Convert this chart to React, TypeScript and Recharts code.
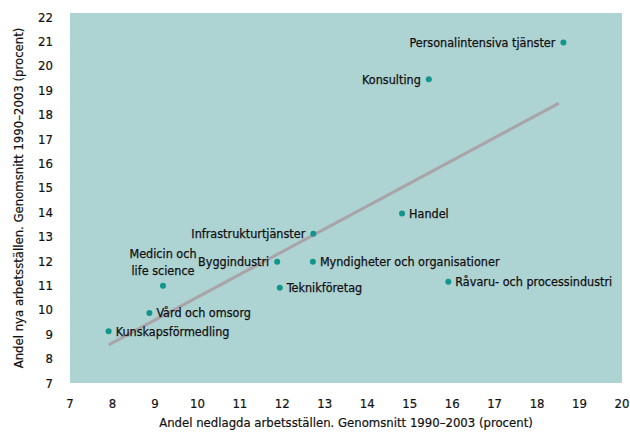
import {
  ReferenceLine,
  Scatter,
  ScatterChart,
  XAxis,
  YAxis,
} from "recharts";

const branches = [
  "Personalintensiva tjänster",
  "Konsulting",
  "Handel",
  "Infrastrukturtjänster",
  "Byggindustri",
  "Myndigheter och organisationer",
  "Medicin och life science",
  "Teknikföretag",
  "Vård och omsorg",
  "Kunskapsförmedling",
  "Råvaru- och processindustri",
];

// andel nedlagda arbetsställen (x) och andel nya (y), procent
const closedShare = [18.62, 15.45, 14.82, 12.73, 11.88, 12.72, 9.19, 11.94, 8.87, 7.91, 15.91];
const newShare = [20.95, 19.45, 13.95, 13.12, 11.97, 11.97, 10.98, 10.9, 9.87, 9.12, 11.15];

const trendX = [7.91, 18.51];
const trendY = [8.56, 18.46];

const xTicks = [7, 8, 9, 10, 11, 12, 13, 14, 15, 16, 17, 18, 19, 20];
const yTicks = [7, 8, 9, 10, 11, 12, 13, 14, 15, 16, 17, 18, 19, 20, 21, 22];

const labelsLeft = new Set([
  "Personalintensiva tjänster",
  "Konsulting",
  "Infrastrukturtjänster",
  "Byggindustri",
]);

const FONT = '"Liberation Sans Narrow", "DejaVu Sans Condensed", "Roboto Condensed", sans-serif';
const INK = "#111";

const data = branches.map((name, i) => ({
  name,
  x: closedShare[i],
  y: newShare[i],
}));

const labelStyle = {
  fontSize: 12.5,
  fill: INK,
  stroke: INK,
  strokeWidth: 0.25,
  fontFamily: FONT,
};

function PointWithLabel(props: any) {
  const { cx, cy, payload } = props;
  const name: string = payload.name;
  let label;
  if (name === "Medicin och life science") {
    label = (
      <text x={cx} y={cy} textAnchor="middle" {...labelStyle}>
        <tspan x={cx} dy={-28}>Medicin och</tspan>
        <tspan x={cx} dy={17}>life science</tspan>
      </text>
    );
  } else if (labelsLeft.has(name)) {
    label = (
      <text x={cx - 8} y={cy} dy="0.35em" textAnchor="end" {...labelStyle}>
        {name}
      </text>
    );
  } else {
    label = (
      <text x={cx + 7} y={cy} dy="0.35em" textAnchor="start" {...labelStyle}>
        {name}
      </text>
    );
  }
  return (
    <g>
      <circle cx={cx} cy={cy} r={3} fill="#12958c" />
      {label}
    </g>
  );
}

const tickStyle = { fill: INK, stroke: INK, strokeWidth: 0.2, fontSize: 13, fontFamily: FONT };

export default function App() {
  return (
    <div style={{ position: "absolute", left: 0, top: 0, background: "#fff" }}>
      <ScatterChart
        width={630}
        height={433}
        margin={{ top: 13, right: 8, left: 0, bottom: 0 }}
        style={{ fontFamily: FONT }}
      >
        <rect x={70} y={13} width={552} height={370} fill="#aed3d3" />
        <XAxis
          type="number"
          dataKey="x"
          domain={[7, 20]}
          ticks={xTicks}
          height={50}
          axisLine={false}
          tickLine={false}
          tickMargin={10}
          tick={tickStyle}
          label={{
            content: (p: any) => (
              <text
                x={p.viewBox.x + p.viewBox.width / 2}
                y={p.viewBox.y + 39}
                dy="0.35em"
                textAnchor="middle"
                {...tickStyle}
              >
                Andel nedlagda arbetsställen. Genomsnitt 1990–2003 (procent)
              </text>
            ),
          }}
        />
        <YAxis
          type="number"
          dataKey="y"
          domain={[7, 22.16]}
          ticks={yTicks}
          width={70}
          axisLine={false}
          tickLine={false}
          tickMargin={11}
          tick={tickStyle}
          label={{
            content: (p: any) => {
              const x = p.viewBox.x + 18;
              const y = p.viewBox.y + p.viewBox.height / 2;
              return (
                <text
                  x={x}
                  y={y}
                  dy="0.35em"
                  textAnchor="middle"
                  {...tickStyle}
                  transform={`rotate(-90, ${x}, ${y})`}
                >
                  Andel nya arbetsställen. Genomsnitt 1990–2003 (procent)
                </text>
              );
            },
          }}
        />
        <ReferenceLine
          segment={[
            { x: trendX[0], y: trendY[0] },
            { x: trendX[1], y: trendY[1] },
          ]}
          stroke="#a9a4a8"
          strokeWidth={3}
          ifOverflow="visible"
        />
        <Scatter data={data} shape={PointWithLabel} isAnimationActive={false} />
      </ScatterChart>
    </div>
  );
}
